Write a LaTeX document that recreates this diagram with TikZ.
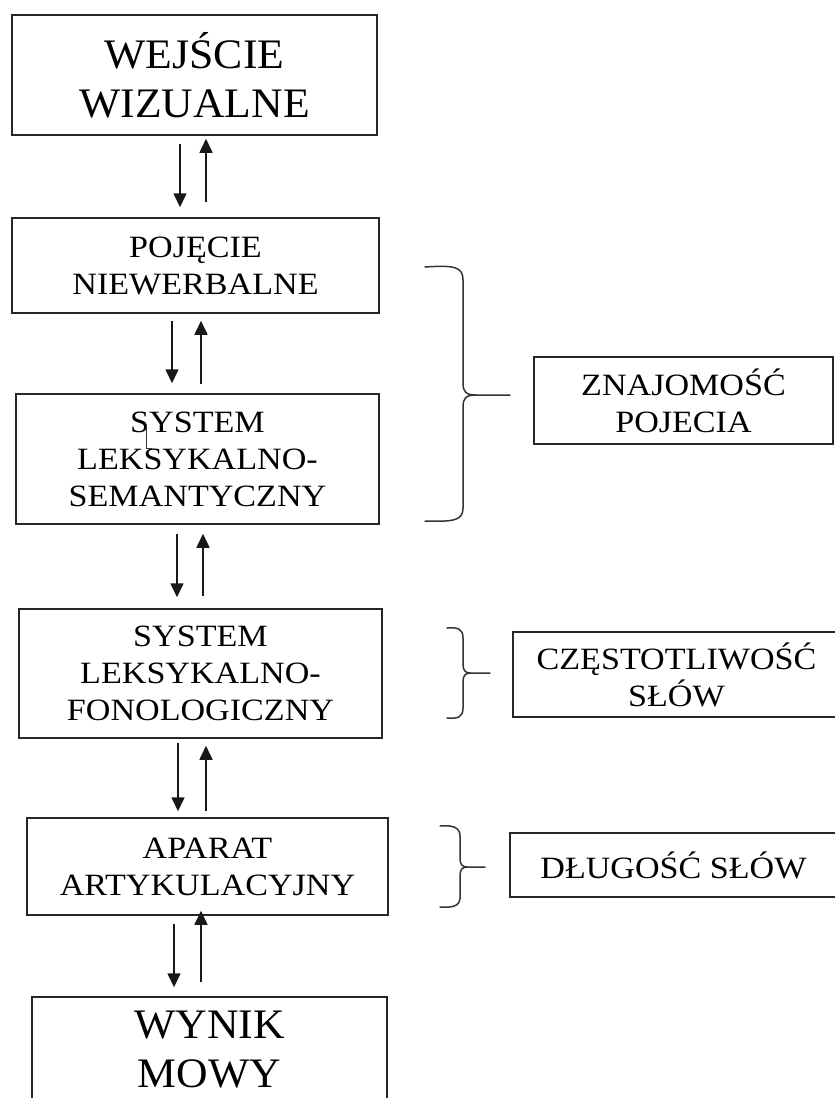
\documentclass[tikz,border=0pt]{standalone}
\usepackage{fontspec}
\setmainfont{Liberation Serif}[FakeStretch=1.1]
\newfontfamily\bigfont{Liberation Serif}[FakeStretch=1.04]
\usetikzlibrary{calc,arrows.meta}
\begin{document}
\begin{tikzpicture}[x=1pt,y=-1pt,
  box/.style={draw=black!85,line width=1.5pt,rectangle,inner sep=0pt,align=center,
    font=\fontsize{31}{37}\selectfont},
  bigbox/.style={box,font=\bigfont\fontsize{42}{49}\selectfont},
  arr/.style={draw=black!90,line width=1.6pt,-{Triangle[width=13pt,length=14pt]}},
  brace/.style={draw=black!80,line width=1.5pt,line cap=round}]
\useasboundingbox (0,0) rectangle (835,1098);
\clip (0,0) rectangle (835,1098);
% left column
\node[bigbox,minimum width=365pt,minimum height=120pt] (b1) at (194.5,75) {WEJŚCIE\\WIZUALNE};
\node[box,minimum width=367pt,minimum height=95pt] (b2) at (195.5,265.5) {POJĘCIE\\NIEWERBALNE};
\node[box,minimum width=363pt,minimum height=130pt] (b3) at (197.5,459) {SYSTEM\\LEKSYKALNO-\\SEMANTYCZNY};
\node[box,minimum width=363pt,minimum height=129pt] (b4) at (200.5,673.5) {SYSTEM\\LEKSYKALNO-\\FONOLOGICZNY};
\node[box,minimum width=361pt,minimum height=97pt] (b5) at (207.5,866.5) {APARAT\\ARTYKULACYJNY};
\node[bigbox,minimum width=355pt,minimum height=106pt] (b6) at (209.5,1050) {WYNIK\\MOWY};
% right column
\node[box,minimum width=299pt,minimum height=87pt] (r1) at (683.5,400.5) {ZNAJOMOŚĆ\\POJECIA};
\node[box,minimum width=327pt,minimum height=85pt] (r2) at (676.5,674.5) {CZĘSTOTLIWOŚĆ\\SŁÓW};
\node[box,minimum width=327pt,minimum height=64pt] (r3) at (673.5,865) {DŁUGOŚĆ SŁÓW};
% stray mark
\draw[black!80,line width=0.8pt] (146.5,427) -- (146.5,448) -- (152,448);
% arrows
\draw[arr] ($(b1.south)+(-14.5,8)$) -- ($(b2.north)+(-15.5,-10)$);
\draw[arr] ($(b2.north)+(10.5,-15)$) -- ($(b1.south)+(11.5,3)$);
\draw[arr] ($(b2.south)+(-23.5,7)$) -- ($(b3.north)+(-25.5,-10)$);
\draw[arr] ($(b3.north)+(3.5,-9)$) -- ($(b2.south)+(5.5,7)$);
\draw[arr] ($(b3.south)+(-20.5,9)$) -- ($(b4.north)+(-23.5,-11)$);
\draw[arr] ($(b4.north)+(2.5,-12)$) -- ($(b3.south)+(5.5,9)$);
\draw[arr] ($(b4.south)+(-22.5,4)$) -- ($(b5.north)+(-29.5,-6)$);
\draw[arr] ($(b5.north)+(-1.5,-6)$) -- ($(b4.south)+(5.5,7)$);
\draw[arr] ($(b5.south)+(-33.5,8)$) -- ($(b6.north)+(-35.5,-9)$);
\draw[arr] ($(b6.north)+(-8.5,-14)$) -- ($(b5.south)+(-6.5,-5)$);
% braces
\coordinate (t1) at (510,395);
\draw[brace] (425,267) .. controls (455,265) and (463,267) .. (463,280) -- (463,383)
  .. controls (463,392) and (466,395) .. (476,395) -- (t1);
\draw[brace] (476,395) .. controls (466,395) and (463,398) .. (463,407) -- (463,508)
  .. controls (463,520) and (455,522) .. (425,521);
\coordinate (t2) at (490,673);
\draw[brace] (447,628) .. controls (458,627) and (463,629) .. (463,638) -- (463,664)
  .. controls (463,670) and (465,673) .. (470,673) -- (t2);
\draw[brace] (470,673) .. controls (465,673) and (463,676) .. (463,682) -- (463,708)
  .. controls (463,717) and (458,719) .. (447,718);
\coordinate (t3) at (485,867);
\draw[brace] (440,826) .. controls (452,825) and (460,827) .. (460,836) -- (460,858)
  .. controls (460,864) and (462,867) .. (467,867) -- (t3);
\draw[brace] (467,867) .. controls (462,867) and (460,870) .. (460,876) -- (460,898)
  .. controls (460,906) and (452,908) .. (440,907);
\end{tikzpicture}
\end{document}
